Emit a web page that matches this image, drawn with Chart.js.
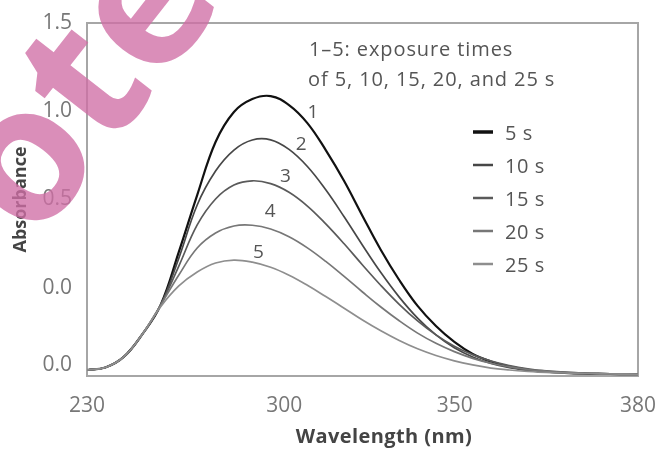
<!DOCTYPE html>
<html>
<head>
<meta charset="utf-8">
<script src="https://cdn.jsdelivr.net/npm/chart.js@4.4.1/dist/chart.umd.min.js"></script>
<style>
  html, body { margin: 0; padding: 0; background: #fff; }
  #wrap { width: 665px; height: 455px; }
</style>
</head>
<body>
<div id="wrap"><canvas id="spektrum" width="665" height="455"></canvas></div>
<script>
// x grid (axis units), ticks and labels
const wavelengths = [230, 235, 240, 245, 250, 255, 260, 265, 270, 275, 280, 285, 290, 295, 300,
  305, 310, 315, 320, 325, 330, 335, 340, 345, 350, 355, 360, 365, 370, 375, 380];
const xTickPos = [230, 283.7, 330.1, 380];
const xTickLabels = ['230', '300', '350', '380'];
const yTickPos = [1.5, 1.0, 0.5, 0.0, -0.435];
const yTickLabels = ['1.5', '1.0', '0.5', '0.0', '0.0'];

const seriesNames = ['5 s', '10 s', '15 s', '20 s', '25 s'];
const curveNumbers = ['1', '2', '3', '4', '5'];
const noteLines = ['1\u20135: exposure times', 'of 5, 10, 15, 20, and 25 s'];

// Absorbance per exposure time
const abs5s = [-0.466, -0.452, -0.392, -0.265, -0.100, 0.203, 0.525, 0.826, 0.996, 1.069, 1.086, 1.035, 0.933, 0.780, 0.605,
  0.407, 0.214, 0.044, -0.103, -0.217, -0.307, -0.375, -0.418, -0.447, -0.465, -0.476, -0.482, -0.486, -0.488, -0.489, -0.490];
const abs10s = [-0.466, -0.452, -0.392, -0.265, -0.100, 0.168, 0.469, 0.661, 0.780, 0.837, 0.838, 0.784, 0.687, 0.555, 0.402,
  0.241, 0.086, -0.053, -0.172, -0.267, -0.340, -0.392, -0.429, -0.453, -0.468, -0.477, -0.483, -0.486, -0.488, -0.489, -0.490];
const abs15s = [-0.466, -0.452, -0.392, -0.265, -0.100, 0.123, 0.356, 0.503, 0.582, 0.606, 0.590, 0.541, 0.463, 0.362, 0.249,
  0.129, 0.013, -0.094, -0.188, -0.267, -0.331, -0.379, -0.416, -0.441, -0.459, -0.471, -0.478, -0.483, -0.486, -0.488, -0.489];
const abs20s = [-0.466, -0.452, -0.392, -0.265, -0.100, 0.072, 0.225, 0.310, 0.350, 0.354, 0.333, 0.289, 0.226, 0.149, 0.064,
  -0.024, -0.109, -0.187, -0.257, -0.315, -0.362, -0.400, -0.428, -0.448, -0.463, -0.472, -0.479, -0.483, -0.486, -0.488, -0.489];
const abs25s = [-0.466, -0.452, -0.392, -0.265, -0.109, 0.010, 0.089, 0.140, 0.157, 0.145, 0.116, 0.071, 0.014, -0.050, -0.116,
  -0.183, -0.244, -0.299, -0.346, -0.384, -0.414, -0.437, -0.455, -0.466, -0.474, -0.480, -0.483, -0.486, -0.488, -0.489, -0.490];

// where the curve numbers sit (axis units)
const numberX = [291.5, 288.3, 284.0, 279.9, 276.7];
const numberY = [0.99, 0.81, 0.63, 0.43, 0.20];

const colors = ['#111111', '#474747', '#5a5a5a', '#777777', '#8e8e8e'];
const widths = [2.2, 1.7, 1.7, 1.7, 1.7];
const FONT = '"Open Sans", "DejaVu Sans", sans-serif';

const allSeries = [abs5s, abs10s, abs15s, abs20s, abs25s];
const datasets = allSeries.map(function(vals, i) {
  return {
    label: seriesNames[i],
    data: wavelengths.map(function(w, k) { return {x: w, y: vals[k]}; }),
    borderColor: colors[i],
    backgroundColor: colors[i],
    borderWidth: widths[i],
    pointRadius: 0,
    tension: 0.4
  };
}).reverse();

const decor = {
  id: 'decor',
  beforeDatasetsDraw(chart) {
    const {ctx, chartArea: a} = chart;
    ctx.save();
    ctx.strokeStyle = '#a6a6a6';
    ctx.lineWidth = 2;
    ctx.strokeRect(a.left, a.top, a.right - a.left, a.bottom - a.top);
    ctx.restore();
  },
  afterDatasetsDraw(chart) {
    const {ctx, chartArea: a, scales: {x, y}} = chart;
    ctx.save();
    ctx.textBaseline = 'middle';
    ctx.textAlign = 'left';
    ctx.fillStyle = '#555';
    ctx.letterSpacing = '0.9px';
    ctx.font = '20px ' + FONT;
    ctx.fillText(noteLines[0], a.left + 222, a.top + 27);
    ctx.fillText(noteLines[1], a.left + 221, a.top + 57);

    // curve numbers
    ctx.textAlign = 'center';
    ctx.letterSpacing = '0px';
    ctx.font = '19px ' + FONT;
    curveNumbers.forEach(function(n, i) {
      ctx.fillText(n, x.getPixelForValue(numberX[i]), y.getPixelForValue(numberY[i]));
    });

    // legend
    ctx.letterSpacing = '0.6px';
    ctx.font = '20px ' + FONT;
    seriesNames.forEach(function(name, i) {
      const ly = a.top + 109 + i * 33;
      ctx.strokeStyle = colors[i];
      ctx.lineWidth = i === 0 ? 3.5 : 2.5;
      ctx.beginPath();
      ctx.moveTo(a.left + 386, ly);
      ctx.lineTo(a.left + 406, ly);
      ctx.stroke();
      ctx.fillStyle = '#555';
      ctx.textAlign = 'left';
      ctx.fillText(name, a.left + 418, ly + 2);
    });

    // x title
    ctx.textAlign = 'center';
    ctx.fillStyle = '#444';
    ctx.letterSpacing = '0.4px';
    ctx.font = 'bold 20px ' + FONT;
    ctx.fillText('Wavelength (nm)', 384, 437);
    ctx.restore();
  },
  afterDraw(chart) {
    const ctx = chart.ctx;
    ctx.save();
    ctx.translate(-8, 212);
    ctx.rotate(-52 * Math.PI / 180);
    ctx.globalAlpha = 0.78;
    ctx.fillStyle = 'rgb(208, 110, 165)';
    ctx.font = 'bold 190px ' + FONT;
    ctx.textBaseline = 'middle';
    ctx.fillText('ote', 0, 0);
    ctx.restore();
  }
};

const ctx = document.getElementById('spektrum').getContext('2d');
new Chart(ctx, {
  type: 'line',
  data: { datasets: datasets },
  options: {
    responsive: false,
    animation: false,
    layout: { padding: { top: 23, right: 22, left: 0, bottom: 0 } },
    plugins: {
      legend: { display: false },
      tooltip: { enabled: false }
    },
    scales: {
      x: {
        type: 'linear',
        min: 230,
        max: 380,
        grid: { display: false },
        border: { display: false },
        afterBuildTicks: function(axis) {
          axis.ticks = xTickPos.map(function(v) { return {value: v}; });
        },
        afterFit: function(axis) { axis.height = 79; },
        ticks: {
          padding: 9,
          maxRotation: 0,
          color: '#777',
          font: { family: FONT, size: 21 },
          callback: function(v, i) { return xTickLabels[i]; }
        }
      },
      y: {
        min: -0.5,
        max: 1.5,
        grid: { display: false },
        border: { display: false },
        afterBuildTicks: function(axis) {
          axis.ticks = yTickPos.map(function(v) { return {value: v}; });
        },
        afterFit: function(axis) { axis.width = 87; },
        ticks: {
          padding: 7,
          color: '#777',
          font: { family: FONT, size: 21 },
          callback: function(v, i) { return yTickLabels[i]; }
        },
        title: {
          display: true,
          text: 'Absorbance',
          color: '#444',
          padding: { top: 10, bottom: 0 },
          font: { family: FONT, size: 18, weight: 'bold' }
        }
      }
    }
  },
  plugins: [decor]
});
</script>
</body>
</html>
